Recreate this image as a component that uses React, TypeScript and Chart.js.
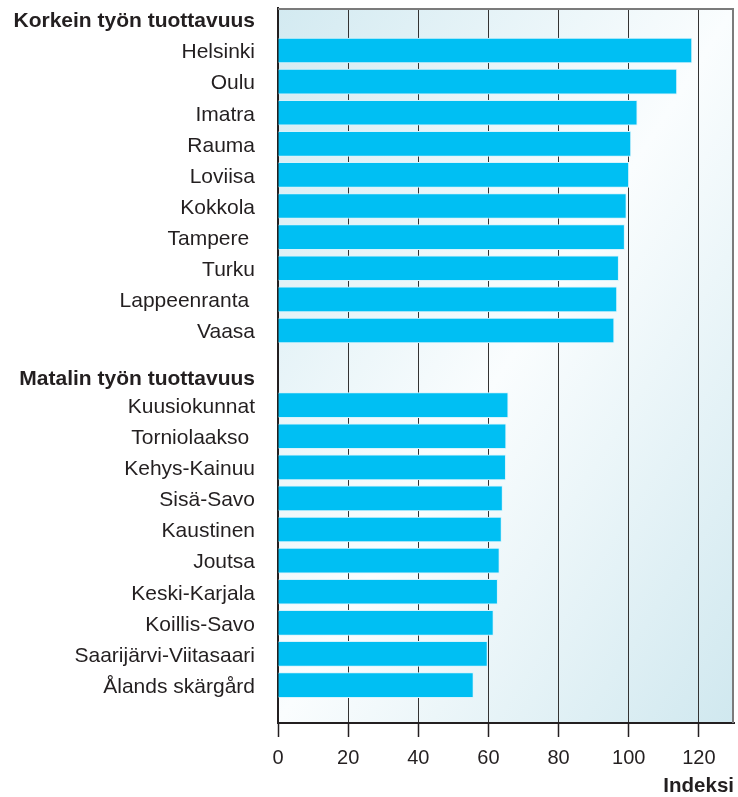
import React, { useEffect, useRef } from 'react';
import { Chart, registerables } from 'chart.js';

Chart.register(...registerables);

const HEADER_HIGH = 'Korkein työn tuottavuus';
const HEADER_LOW = 'Matalin työn tuottavuus';
const highLabels = ['Helsinki', 'Oulu', 'Imatra', 'Rauma', 'Loviisa', 'Kokkola', 'Tampere ', 'Turku', 'Lappeenranta ', 'Vaasa'];
const highValues = [118.0, 113.7, 102.4, 100.6, 100.0, 99.3, 98.8, 97.1, 96.6, 95.8];
const lowLabels = ['Kuusiokunnat', 'Torniolaakso ', 'Kehys-Kainuu', 'Sisä-Savo', 'Kaustinen', 'Joutsa', 'Keski-Karjala', 'Koillis-Savo', 'Saarijärvi-Viitasaari', 'Ålands skärgård'];
const lowValues = [65.6, 65.0, 64.9, 64.0, 63.7, 63.1, 62.6, 61.4, 59.7, 55.7];
const xTicks = [0, 20, 40, 60, 80, 100, 120];
const X_MAX = 130;
const AXIS_TITLE = 'Indeksi';

// row layout (in row units) of the category axis
const HEADER_HIGH_ROW = 0;
const HIGH_START_ROW = 1;
const HEADER_LOW_ROW = 11.5;
const LOW_START_ROW = 12.4;
const Y_MIN = -0.367;
const Y_MAX = 22.62;

const FONT = 'Liberation Sans, Arial, Helvetica, sans-serif';
const TEXT = '#231f20';

const highRows = highLabels.map((_, i) => HIGH_START_ROW + i);
const lowRows = lowLabels.map((_, i) => LOW_START_ROW + i);

const key = (v: number) => v.toFixed(2);
const rowLabel = new Map<string, string>();
rowLabel.set(key(HEADER_HIGH_ROW), HEADER_HIGH);
rowLabel.set(key(HEADER_LOW_ROW), HEADER_LOW);
highRows.forEach((r, i) => rowLabel.set(key(r), highLabels[i]));
lowRows.forEach((r, i) => rowLabel.set(key(r), lowLabels[i]));
const headerRows = new Set([key(HEADER_HIGH_ROW), key(HEADER_LOW_ROW)]);
const allRows = [HEADER_HIGH_ROW, ...highRows, HEADER_LOW_ROW, ...lowRows];

const barData = [
  ...highValues.map((v, i) => ({ x: v, y: highRows[i] })),
  ...lowValues.map((v, i) => ({ x: v, y: lowRows[i] })),
];

const bgFramePlugin = {
  id: 'bgFrame',
  beforeDraw(chart: any) {
    const { ctx, chartArea: a } = chart;
    const w = a.right - a.left;
    const h = a.bottom - a.top;
    const cx = (a.left + a.right) / 2;
    const cy = (a.top + a.bottom) / 2;
    const len = Math.hypot(w, h);
    const dx = h / len;
    const dy = w / len;
    const L = (w * h) / len;
    const g = ctx.createLinearGradient(cx - dx * L, cy - dy * L, cx + dx * L, cy + dy * L);
    g.addColorStop(0, '#d3eaf1');
    g.addColorStop(0.5, '#fafdfe');
    g.addColorStop(1, '#d0e8ef');
    ctx.save();
    ctx.fillStyle = g;
    ctx.fillRect(a.left, a.top, w, h);
    ctx.restore();
  },
  afterDraw(chart: any) {
    const { ctx, chartArea: a } = chart;
    ctx.save();
    ctx.strokeStyle = '#7b7b7b';
    ctx.lineWidth = 2;
    ctx.beginPath();
    ctx.moveTo(a.left, a.top + 1);
    ctx.lineTo(a.right - 1, a.top + 1);
    ctx.lineTo(a.right - 1, a.bottom);
    ctx.stroke();
    ctx.restore();
  },
};

export default function App() {
  const ref = useRef<HTMLCanvasElement | null>(null);

  useEffect(() => {
    if (!ref.current) return;
    Chart.defaults.font.family = FONT;
    const chart = new Chart(ref.current, {
      type: 'bar',
      data: {
        datasets: [
          {
            data: barData as any,
            backgroundColor: '#00bff3',
            borderColor: '#d8f3fc',
            borderWidth: 1,
            borderSkipped: 'start',
            barThickness: 25,
          },
        ],
      },
      plugins: [bgFramePlugin],
      options: {
        indexAxis: 'y',
        responsive: false,
        animation: false,
        layout: { padding: { top: 8, right: 4, left: 0, bottom: 0 } },
        plugins: { legend: { display: false }, tooltip: { enabled: false } },
        scales: {
          x: {
            type: 'linear',
            position: 'bottom',
            min: 0,
            max: X_MAX,
            afterBuildTicks: (s: any) => {
              s.ticks = xTicks.map((v) => ({ value: v }));
            },
            afterFit: (s: any) => {
              s.height = 74;
              s.paddingLeft = 0;
              s.paddingRight = 0;
            },
            grid: {
              display: true,
              color: '#333333',
              lineWidth: 1,
              drawTicks: true,
              tickLength: 14,
              tickColor: TEXT,
              tickWidth: 1.5,
            },
            border: { display: true, color: TEXT, width: 2 },
            ticks: {
              padding: 9,
              color: TEXT,
              maxRotation: 0,
              autoSkip: false,
              font: { size: 20, family: FONT },
            },
            title: {
              display: true,
              text: AXIS_TITLE,
              align: 'end',
              color: TEXT,
              padding: 0,
              font: { size: 20.5, weight: 'bold', lineHeight: 1, family: FONT },
            },
          },
          y: {
            type: 'linear',
            reverse: true,
            offset: false,
            min: Y_MIN,
            max: Y_MAX,
            afterBuildTicks: (s: any) => {
              s.ticks = allRows.map((v) => ({ value: v }));
            },
            afterFit: (s: any) => {
              s.width = 278;
              s.paddingTop = 0;
              s.paddingBottom = 0;
            },
            grid: { display: false, drawTicks: false, offset: false },
            border: { display: true, color: TEXT, width: 2 },
            ticks: {
              autoSkip: false,
              padding: 23,
              labelOffset: 2,
              color: TEXT,
              callback: (v: any) => rowLabel.get(key(Number(v))) ?? '',
              font: (c: any) => ({
                family: FONT,
                size: 21,
                weight: c.tick && headerRows.has(key(c.tick.value)) ? 'bold' : 'normal',
              }),
            },
          },
        },
      } as any,
    });
    return () => chart.destroy();
  }, []);

  return (
    <div style={{ position: 'absolute', left: 0, top: 0, width: 738, height: 797 }}>
      <canvas ref={ref} width={738} height={797} style={{ display: 'block' }} />
    </div>
  );
}
